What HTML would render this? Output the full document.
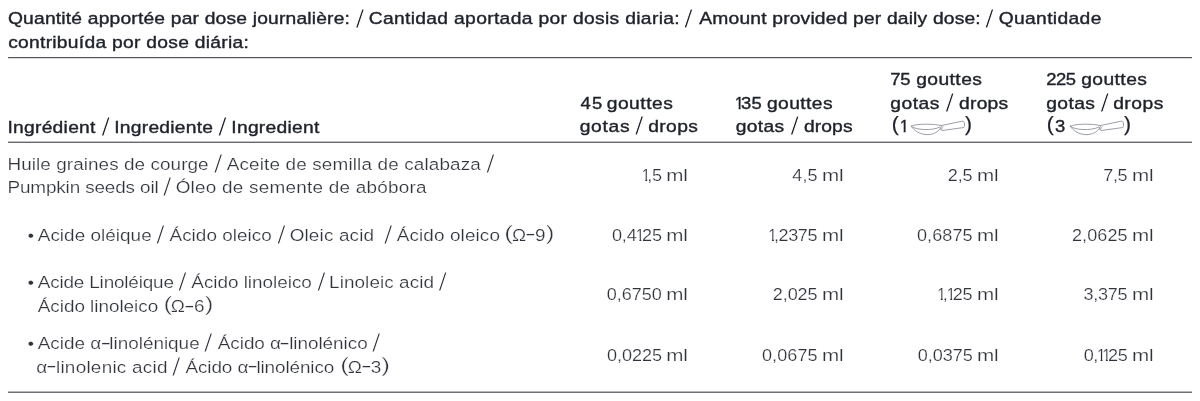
<!DOCTYPE html>
<html lang="fr"><head><meta charset="utf-8"><title>Quantité apportée par dose journalière</title>
<style>
html,body{margin:0;padding:0;background:#fff;}
body{width:1200px;height:401px;position:relative;overflow:hidden;font-family:"Liberation Sans",sans-serif;}
.t{position:absolute;left:0;top:0;white-space:pre;line-height:24px;height:24px;margin:0;padding:0;transform-origin:0 0;}
.h{font-size:17.2px;color:#1f222b;-webkit-text-stroke:0.4px #1f222b;transform:scaleX(1.12);}
.b{font-size:17.2px;color:#30333c;-webkit-text-stroke:0.22px #fff;transform:scaleX(1.1);}
.n{font-size:17.2px;color:#30333c;-webkit-text-stroke:0.22px #fff;transform:scaleX(1.05);}
.d{font-size:17.2px;color:#1f222b;-webkit-text-stroke:0.4px #1f222b;transform:scaleX(1.07);}
.p{font-size:21px;color:#1f222b;-webkit-text-stroke:0.25px #1f222b;}
.o{display:inline-block;transform:scaleX(0.85);margin-left:-1.2px;margin-right:-3px;clip-path:polygon(0 0,100% 0,100% 15.7px,6.2px 15.7px,6.2px 100%,4px 100%,4px 15.7px,0 15.7px);}
.m{font-size:17.2px;color:#30333c;-webkit-text-stroke:0.22px #fff;}
.y{display:inline-block;transform:translateY(-1.2px) scaleX(1.7);margin:0 0.9px;}
.pb{font-size:21px;color:#30333c;-webkit-text-stroke:0.4px #fff;}
.sh{font-size:25.5px;color:#1f222b;-webkit-text-stroke:0.8px #fff;}
.sb{font-size:25.5px;color:#30333c;-webkit-text-stroke:0.95px #fff;}
.hr{position:absolute;left:8px;width:1183.5px;height:1px;}
</style></head>
<body>
<div class="hr" style="top:57px;background:#52555c"></div>
<div class="hr" style="top:58px;background:#d8d9dc"></div>
<div class="hr" style="top:141px;background:#c0c1c5"></div>
<div class="hr" style="top:142px;background:#686b73"></div>
<div class="hr" style="top:391px;background:#b5b6ba"></div>
<div class="hr" style="top:392px;background:#6e7077"></div>
<div class="t h" id="l0" style="transform:translate(7.96px,6.34px) scaleX(1.12);letter-spacing:0.165px">Quantité apportée par dose journalière:</div>
<div class="t sh" id="l1" style="transform:translate(355.50px,6.76px) scaleX(1.25);letter-spacing:0.000px">/</div>
<div class="t h" id="l2" style="transform:translate(368.68px,6.34px) scaleX(1.12);letter-spacing:0.297px">Cantidad aportada por dosis diaria:</div>
<div class="t sh" id="l3" style="transform:translate(684.00px,6.76px) scaleX(1.25);letter-spacing:0.000px">/</div>
<div class="t h" id="l4" style="transform:translate(699.34px,6.34px) scaleX(1.12);letter-spacing:0.157px">Amount provided per daily dose:</div>
<div class="t sh" id="l5" style="transform:translate(985.00px,6.76px) scaleX(1.25);letter-spacing:0.000px">/</div>
<div class="t h" id="l6" style="transform:translate(998.68px,6.34px) scaleX(1.12);letter-spacing:0.311px">Quantidade</div>
<div class="t h" id="l7" style="transform:translate(8.15px,30.04px) scaleX(1.12);letter-spacing:0.245px">contribuída por dose diária:</div>
<div class="t h" id="l8" style="transform:translate(7.38px,114.64px) scaleX(1.12);letter-spacing:0.242px">Ingrédient</div>
<div class="t sh" id="l9" style="transform:translate(101.25px,115.06px) scaleX(1.25);letter-spacing:0.000px">/</div>
<div class="t h" id="l10" style="transform:translate(114.27px,114.64px) scaleX(1.12);letter-spacing:0.211px">Ingrediente</div>
<div class="t sh" id="l11" style="transform:translate(218.00px,115.06px) scaleX(1.25);letter-spacing:0.000px">/</div>
<div class="t h" id="l12" style="transform:translate(231.26px,114.64px) scaleX(1.12);letter-spacing:0.254px">Ingredient</div>
<div class="t d" id="l13" style="transform:translate(580.57px,90.74px) scaleX(1.07);letter-spacing:1.070px">45</div>
<div class="t h" id="l14" style="transform:translate(606.67px,90.74px) scaleX(1.12);letter-spacing:0.461px">gouttes</div>
<div class="t h" id="l15" style="transform:translate(579.73px,113.84px) scaleX(1.12);letter-spacing:0.600px">gotas</div>
<div class="t sh" id="l16" style="transform:translate(634.82px,114.26px) scaleX(1.25);letter-spacing:0.000px">/</div>
<div class="t h" id="l17" style="transform:translate(648.13px,113.84px) scaleX(1.12);letter-spacing:0.371px">drops</div>
<div class="t d" id="l18" style="transform:translate(735.29px,90.74px) scaleX(1.07);letter-spacing:0.056px"><span class="o">1</span>35</div>
<div class="t h" id="l19" style="transform:translate(766.96px,90.74px) scaleX(1.12);letter-spacing:0.362px">gouttes</div>
<div class="t h" id="l20" style="transform:translate(735.67px,113.84px) scaleX(1.12);letter-spacing:0.288px">gotas</div>
<div class="t sh" id="l21" style="transform:translate(790.14px,114.26px) scaleX(1.25);letter-spacing:0.000px">/</div>
<div class="t h" id="l22" style="transform:translate(803.96px,113.84px) scaleX(1.12);letter-spacing:0.095px">drops</div>
<div class="t d" id="l23" style="transform:translate(890.37px,66.84px) scaleX(1.07);letter-spacing:-0.266px">75</div>
<div class="t h" id="l24" style="transform:translate(916.13px,66.84px) scaleX(1.12);letter-spacing:0.393px">gouttes</div>
<div class="t h" id="l25" style="transform:translate(890.33px,90.74px) scaleX(1.12);letter-spacing:0.452px">gotas</div>
<div class="t sh" id="l26" style="transform:translate(945.25px,91.16px) scaleX(1.25);letter-spacing:0.000px">/</div>
<div class="t h" id="l27" style="transform:translate(958.96px,90.74px) scaleX(1.12);letter-spacing:0.249px">drops</div>
<div class="t d" id="l28" style="transform:translate(1046.26px,66.84px) scaleX(1.07);letter-spacing:-0.428px">225</div>
<div class="t h" id="l29" style="transform:translate(1081.13px,66.84px) scaleX(1.12);letter-spacing:0.396px">gouttes</div>
<div class="t h" id="l30" style="transform:translate(1046.19px,90.74px) scaleX(1.12);letter-spacing:0.363px">gotas</div>
<div class="t sh" id="l31" style="transform:translate(1100.14px,91.16px) scaleX(1.25);letter-spacing:0.000px">/</div>
<div class="t h" id="l32" style="transform:translate(1113.13px,90.74px) scaleX(1.12);letter-spacing:0.453px">drops</div>
<div class="t p" id="l33" style="transform:translate(891.84px,111.92px) scaleX(1.0);letter-spacing:0.000px">(</div>
<div class="t d" id="l34" style="transform:translate(900.29px,114.34px) scaleX(1.07);letter-spacing:0.000px"><span class="o">1</span></div>
<div class="t p" id="l35" style="transform:translate(965.05px,111.92px) scaleX(1.0);letter-spacing:0.000px">)</div>
<div class="t p" id="l36" style="transform:translate(1046.84px,111.92px) scaleX(1.0);letter-spacing:0.000px">(</div>
<div class="t d" id="l37" style="transform:translate(1055.03px,114.34px) scaleX(1.07);letter-spacing:0.000px">3</div>
<div class="t p" id="l38" style="transform:translate(1124.00px,111.92px) scaleX(1.0);letter-spacing:0.000px">)</div>
<div class="t b" id="l39" style="transform:translate(7.45px,151.64px) scaleX(1.1);letter-spacing:0.062px">Huile graines de courge</div>
<div class="t sb" id="l40" style="transform:translate(213.84px,152.06px) scaleX(1.25);letter-spacing:0.000px">/</div>
<div class="t b" id="l41" style="transform:translate(226.73px,151.64px) scaleX(1.1);letter-spacing:0.130px">Aceite de semilla de calabaza</div>
<div class="t sb" id="l42" style="transform:translate(486.07px,152.06px) scaleX(1.25);letter-spacing:0.000px">/</div>
<div class="t b" id="l43" style="transform:translate(7.47px,174.74px) scaleX(1.1);letter-spacing:-0.127px">Pumpkin seeds oil</div>
<div class="t sb" id="l44" style="transform:translate(162.84px,175.16px) scaleX(1.25);letter-spacing:0.000px">/</div>
<div class="t b" id="l45" style="transform:translate(175.65px,174.74px) scaleX(1.1);letter-spacing:0.220px">Óleo de semente de abóbora</div>
<div class="t b" id="l46" style="transform:translate(27.44px,222.54px) scaleX(1.1);letter-spacing:0.000px">•</div>
<div class="t b" id="l47" style="transform:translate(37.73px,222.54px) scaleX(1.1);letter-spacing:0.033px">Acide oléique</div>
<div class="t sb" id="l48" style="transform:translate(156.07px,222.96px) scaleX(1.25);letter-spacing:0.000px">/</div>
<div class="t b" id="l49" style="transform:translate(169.51px,222.54px) scaleX(1.1);letter-spacing:0.020px">Ácido oleico</div>
<div class="t sb" id="l50" style="transform:translate(277.07px,222.96px) scaleX(1.25);letter-spacing:0.000px">/</div>
<div class="t b" id="l51" style="transform:translate(289.65px,222.54px) scaleX(1.1);letter-spacing:0.140px">Oleic acid</div>
<div class="t sb" id="l52" style="transform:translate(383.84px,222.96px) scaleX(1.25);letter-spacing:0.000px">/</div>
<div class="t b" id="l53" style="transform:translate(396.73px,222.54px) scaleX(1.1);letter-spacing:0.104px">Ácido oleico</div>
<div class="t pb" id="l54" style="transform:translate(504.36px,220.82px) scaleX(1.25);letter-spacing:0.000px">(</div>
<div class="t b" id="l55" style="transform:translate(512.00px,222.54px) scaleX(1.1);letter-spacing:0.316px">Ω<span class="y">-</span>9</div>
<div class="t pb" id="l56" style="transform:translate(545.77px,220.82px) scaleX(1.25);letter-spacing:0.000px">)</div>
<div class="t b" id="l57" style="transform:translate(27.44px,270.04px) scaleX(1.1);letter-spacing:0.000px">•</div>
<div class="t b" id="l58" style="transform:translate(37.73px,270.04px) scaleX(1.1);letter-spacing:-0.154px">Acide Linoléique</div>
<div class="t sb" id="l59" style="transform:translate(178.07px,270.46px) scaleX(1.25);letter-spacing:0.000px">/</div>
<div class="t b" id="l60" style="transform:translate(191.29px,270.04px) scaleX(1.1);letter-spacing:-0.021px">Ácido linoleico</div>
<div class="t sb" id="l61" style="transform:translate(317.07px,270.46px) scaleX(1.25);letter-spacing:0.000px">/</div>
<div class="t b" id="l62" style="transform:translate(329.08px,270.04px) scaleX(1.1);letter-spacing:0.065px">Linoleic acid</div>
<div class="t sb" id="l63" style="transform:translate(438.34px,270.46px) scaleX(1.25);letter-spacing:0.000px">/</div>
<div class="t b" id="l64" style="transform:translate(37.73px,294.04px) scaleX(1.1);letter-spacing:-0.026px">Ácido linoleico</div>
<div class="t pb" id="l65" style="transform:translate(163.59px,292.32px) scaleX(1.25);letter-spacing:0.000px">(</div>
<div class="t b" id="l66" style="transform:translate(170.84px,294.04px) scaleX(1.1);letter-spacing:0.327px">Ω<span class="y">-</span>6</div>
<div class="t pb" id="l67" style="transform:translate(204.68px,292.32px) scaleX(1.25);letter-spacing:0.000px">)</div>
<div class="t b" id="l68" style="transform:translate(27.44px,331.04px) scaleX(1.1);letter-spacing:0.000px">•</div>
<div class="t b" id="l69" style="transform:translate(37.73px,331.04px) scaleX(1.1);letter-spacing:-0.012px">Acide α<span class="y">-</span>linolénique</div>
<div class="t sb" id="l70" style="transform:translate(203.84px,331.46px) scaleX(1.25);letter-spacing:0.000px">/</div>
<div class="t b" id="l71" style="transform:translate(217.73px,331.04px) scaleX(1.1);letter-spacing:-0.034px">Ácido α<span class="y">-</span>linolénico</div>
<div class="t sb" id="l72" style="transform:translate(371.68px,331.46px) scaleX(1.25);letter-spacing:0.000px">/</div>
<div class="t b" id="l73" style="transform:translate(36.23px,354.54px) scaleX(1.1);letter-spacing:0.233px">α<span class="y">-</span>linolenic acid</div>
<div class="t sb" id="l74" style="transform:translate(171.68px,354.96px) scaleX(1.25);letter-spacing:0.000px">/</div>
<div class="t b" id="l75" style="transform:translate(185.51px,354.54px) scaleX(1.1);letter-spacing:-0.096px">Ácido α<span class="y">-</span>linolénico</div>
<div class="t pb" id="l76" style="transform:translate(340.37px,352.82px) scaleX(1.25);letter-spacing:0.000px">(</div>
<div class="t b" id="l77" style="transform:translate(347.84px,354.54px) scaleX(1.1);letter-spacing:0.191px">Ω<span class="y">-</span>3</div>
<div class="t pb" id="l78" style="transform:translate(381.28px,352.82px) scaleX(1.25);letter-spacing:0.000px">)</div>
<div class="t n" id="l79" style="transform:translate(641.99px,163.29px) scaleX(1.05);letter-spacing:-0.355px"><span class="o">1</span>,5</div>
<div class="t m" id="l80" style="transform:translate(666.29px,163.29px) scaleX(1.2);letter-spacing:-0.258px">ml</div>
<div class="t n" id="l81" style="transform:translate(792.37px,163.29px) scaleX(1.05);letter-spacing:0.052px">4,5</div>
<div class="t m" id="l82" style="transform:translate(821.92px,163.29px) scaleX(1.2);letter-spacing:-0.142px">ml</div>
<div class="t n" id="l83" style="transform:translate(947.76px,163.29px) scaleX(1.05);letter-spacing:-0.157px">2,5</div>
<div class="t m" id="l84" style="transform:translate(976.92px,163.29px) scaleX(1.2);letter-spacing:-0.142px">ml</div>
<div class="t n" id="l85" style="transform:translate(1103.37px,163.29px) scaleX(1.05);letter-spacing:-0.438px">7,5</div>
<div class="t m" id="l86" style="transform:translate(1131.92px,163.29px) scaleX(1.2);letter-spacing:-0.142px">ml</div>
<div class="t n" id="l87" style="transform:translate(612.00px,222.54px) scaleX(1.05);letter-spacing:-0.171px">0,4<span class="o">1</span>25</div>
<div class="t m" id="l88" style="transform:translate(666.29px,222.54px) scaleX(1.2);letter-spacing:-0.258px">ml</div>
<div class="t n" id="l89" style="transform:translate(768.67px,222.54px) scaleX(1.05);letter-spacing:-0.379px"><span class="o">1</span>,2375</div>
<div class="t m" id="l90" style="transform:translate(821.92px,222.54px) scaleX(1.2);letter-spacing:-0.142px">ml</div>
<div class="t n" id="l91" style="transform:translate(917.00px,222.54px) scaleX(1.05);letter-spacing:0.076px">0,6875</div>
<div class="t m" id="l92" style="transform:translate(976.92px,222.54px) scaleX(1.2);letter-spacing:-0.142px">ml</div>
<div class="t n" id="l93" style="transform:translate(1071.93px,222.54px) scaleX(1.05);letter-spacing:0.090px">2,0625</div>
<div class="t m" id="l94" style="transform:translate(1131.92px,222.54px) scaleX(1.2);letter-spacing:-0.142px">ml</div>
<div class="t n" id="l95" style="transform:translate(606.67px,282.04px) scaleX(1.05);letter-spacing:-0.032px">0,6750</div>
<div class="t m" id="l96" style="transform:translate(666.29px,282.04px) scaleX(1.2);letter-spacing:-0.258px">ml</div>
<div class="t n" id="l97" style="transform:translate(772.76px,282.04px) scaleX(1.05);letter-spacing:-0.079px">2,025</div>
<div class="t m" id="l98" style="transform:translate(821.92px,282.04px) scaleX(1.2);letter-spacing:-0.142px">ml</div>
<div class="t n" id="l99" style="transform:translate(937.53px,282.04px) scaleX(1.05);letter-spacing:-0.310px"><span class="o">1</span>,<span class="o">1</span>25</div>
<div class="t m" id="l100" style="transform:translate(976.92px,282.04px) scaleX(1.2);letter-spacing:-0.142px">ml</div>
<div class="t n" id="l101" style="transform:translate(1083.49px,282.04px) scaleX(1.05);letter-spacing:-0.249px">3,375</div>
<div class="t m" id="l102" style="transform:translate(1131.92px,282.04px) scaleX(1.2);letter-spacing:-0.142px">ml</div>
<div class="t n" id="l103" style="transform:translate(607.00px,343.04px) scaleX(1.05);letter-spacing:-0.048px">0,0225</div>
<div class="t m" id="l104" style="transform:translate(666.29px,343.04px) scaleX(1.2);letter-spacing:-0.258px">ml</div>
<div class="t n" id="l105" style="transform:translate(762.00px,343.04px) scaleX(1.05);letter-spacing:0.076px">0,0675</div>
<div class="t m" id="l106" style="transform:translate(821.92px,343.04px) scaleX(1.2);letter-spacing:-0.142px">ml</div>
<div class="t n" id="l107" style="transform:translate(917.85px,343.04px) scaleX(1.05);letter-spacing:-0.067px">0,0375</div>
<div class="t m" id="l108" style="transform:translate(976.92px,343.04px) scaleX(1.2);letter-spacing:-0.142px">ml</div>
<div class="t n" id="l109" style="transform:translate(1083.67px,343.04px) scaleX(1.05);letter-spacing:-0.461px">0,<span class="o">1</span><span class="o">1</span>25</div>
<div class="t m" id="l110" style="transform:translate(1131.92px,343.04px) scaleX(1.2);letter-spacing:-0.142px">ml</div>

<svg class="sp" style="position:absolute;left:910px;top:119px" width="56" height="18" viewBox="0 0 56 18" fill="none" stroke="#8b8e97" stroke-width="0.85" stroke-linecap="round" stroke-linejoin="round">
<path d="M1.3 7.15 C6 4.6 24 4.6 31.2 6.6"/>
<path d="M1.3 7.15 C5 11.2 22 11.9 29.6 8.25"/>
<path d="M1.3 7.3 C4 11.5 10 15.8 18 15.65 C23 15.5 28.5 13 30.7 8.8"/>
<path d="M31.2 6.6 L52 2.2 C53.5 1.9 54.4 3 54.5 5 C54.6 7 54.3 8.3 53.7 8.55 L32.3 11.5 C30.6 11.3 29.8 9.4 31.5 7.2"/>
<path d="M33.1 7.9 C32 8.8 31.5 9.8 31.8 10.8"/>
</svg>

<svg class="sp" style="position:absolute;left:1068.8px;top:119px" width="56" height="18" viewBox="0 0 56 18" fill="none" stroke="#8b8e97" stroke-width="0.85" stroke-linecap="round" stroke-linejoin="round">
<path d="M1.3 7.15 C6 4.6 24 4.6 31.2 6.6"/>
<path d="M1.3 7.15 C5 11.2 22 11.9 29.6 8.25"/>
<path d="M1.3 7.3 C4 11.5 10 15.8 18 15.65 C23 15.5 28.5 13 30.7 8.8"/>
<path d="M31.2 6.6 L52 2.2 C53.5 1.9 54.4 3 54.5 5 C54.6 7 54.3 8.3 53.7 8.55 L32.3 11.5 C30.6 11.3 29.8 9.4 31.5 7.2"/>
<path d="M33.1 7.9 C32 8.8 31.5 9.8 31.8 10.8"/>
</svg>
</body></html>
